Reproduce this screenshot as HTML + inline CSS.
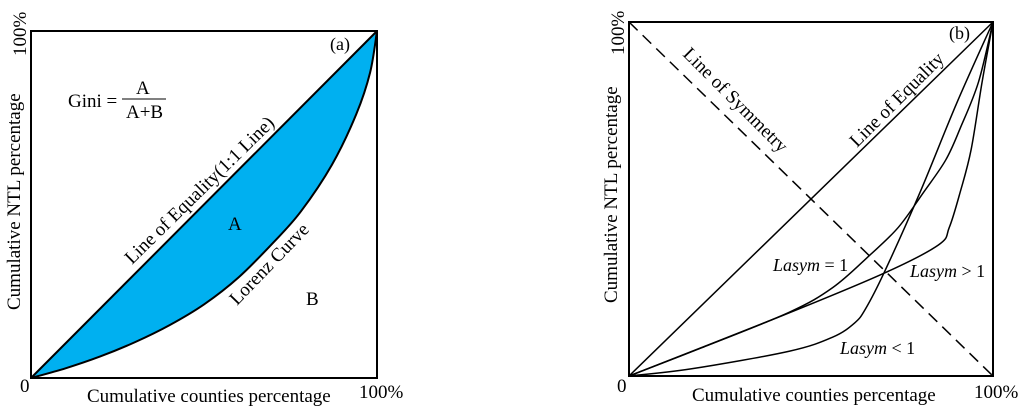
<!DOCTYPE html>
<html><head><meta charset="utf-8"><style>
body{margin:0;background:#fff}
svg{display:block;font-family:"Liberation Serif",serif}
</style></head><body>
<svg id="c" width="1024" height="414" viewBox="0 0 1024 414"></svg>
<script>
// Panel (a) Lorenz curve data (fractions)
const lorenzX=[0,0.1,0.2,0.3,0.4,0.5,0.6,0.7,0.78,0.87,0.94,0.98,1];
const lorenzY=[0,0.028,0.062,0.103,0.152,0.212,0.29,0.39,0.48,0.615,0.76,0.88,1];
// Panel (b) curves
const eqX=[0,0.2,0.44,0.56,0.66,0.74,0.81,0.87,0.91,0.96,1];
const eqY=[0,0.08,0.18,0.25,0.34,0.42,0.52,0.61,0.70,0.83,1];
const gtX=[0,0.42,0.70,0.85,0.88,0.91,0.94,0.97,1];
const gtY=[0,0.17,0.29,0.37,0.42,0.52,0.64,0.83,1];
const ltX=[0,0.17,0.44,0.56,0.62,0.65,0.70,0.80,0.90,1];
const ltY=[0,0.02,0.07,0.11,0.15,0.19,0.29,0.52,0.77,1];

const NS="http://www.w3.org/2000/svg";
const svg=document.getElementById('c');
function el(t,a,txt){const e=document.createElementNS(NS,t);for(const k in a)e.setAttribute(k,a[k]);if(txt!==undefined)e.textContent=txt;svg.appendChild(e);return e;}
function sx(p,v){return p.x0+v*(p.x1-p.x0);}
function sy(p,v){return p.y0-v*(p.y0-p.y1);}
function pathD(p,xs,ys){
  const pts=xs.map((x,i)=>[sx(p,x),sy(p,ys[i])]);
  let d=`M${pts[0][0]},${pts[0][1]}`;
  for(let i=0;i<pts.length-1;i++){
    const p0=pts[Math.max(i-1,0)],p1=pts[i],p2=pts[i+1],p3=pts[Math.min(i+2,pts.length-1)];
    const c1=[p1[0]+(p2[0]-p0[0])/6,p1[1]+(p2[1]-p0[1])/6];
    const c2=[p2[0]-(p3[0]-p1[0])/6,p2[1]-(p3[1]-p1[1])/6];
    d+=` C${c1[0]},${c1[1]} ${c2[0]},${c2[1]} ${p2[0]},${p2[1]}`;
  }
  return d;
}
const A={x0:31,x1:377,y0:378,y1:31};
const B={x0:629,x1:993,y0:376,y1:22};

let e;
e=el('path',{d:pathD(A,lorenzX,lorenzY)+` L${A.x0},${A.y0} Z`,fill:'#00b0f0',stroke:'none'});

e=el('path',{d:pathD(A,lorenzX,lorenzY),fill:'none',stroke:'#000','stroke-width':2});

e=el('line',{x1:A.x0,y1:A.y0,x2:A.x1,y2:A.y1,stroke:'#000','stroke-width':2});

e=el('rect',{x:A.x0,y:A.y1,width:A.x1-A.x0,height:A.y0-A.y1,fill:'none',stroke:'#000','stroke-width':2});


const T=(x,y,s,txt,name,extra)=>{const o={x:x,y:y,'font-size':s};Object.assign(o,extra||{});const t=el('text',o,txt);return t;};
T(330,50,18,'(a)','panel-label-a');
T(68,107,19,'Gini =','gini-label');
el('line',{x1:122,y1:99,x2:166,y2:99,stroke:'#000','stroke-width':1});
T(136,94,19,'A','gini-numerator');
T(126,118,19,'A+B','gini-denominator');
T(228,230,19,'A','region-a-label');
T(306,305,19,'B','region-b-label');
T(0,0,19,'Line of Equality(1:1 Line)','equality-label-a',{transform:'translate(132,265) rotate(-44.5)'});
T(0,0,19,'Lorenz Curve','lorenz-label',{transform:'translate(237,306) rotate(-46)'});
T(20,392,19,'0','x-origin-a');
T(359,398,19,'100%','x-max-a');
T(0,0,19,'100%','y-max-a',{transform:'translate(26,56) rotate(-90)'});
T(0,0,19,'Cumulative NTL percentage','y-axis-title-a',{transform:'translate(20,310) rotate(-90)'});
T(87,402,19,'Cumulative counties percentage','x-axis-title-a');

e=el('line',{x1:B.x0,y1:B.y1,x2:B.x1,y2:B.y0,stroke:'#000','stroke-width':1.5,'stroke-dasharray':'12,7'});

e=el('line',{x1:B.x0,y1:B.y0,x2:B.x1,y2:B.y1,stroke:'#000','stroke-width':1.5});

[[eqX,eqY,'curve-lasym-eq-1'],[gtX,gtY,'curve-lasym-gt-1'],[ltX,ltY,'curve-lasym-lt-1']].forEach(c=>{
  const p=el('path',{d:pathD(B,c[0],c[1]),fill:'none',stroke:'#000','stroke-width':1.5});
  
});
e=el('rect',{x:B.x0,y:B.y1,width:B.x1-B.x0,height:B.y0-B.y1,fill:'none',stroke:'#000','stroke-width':2});

T(949,39,18,'(b)','panel-label-b');
T(0,0,19,'Line of Equality','equality-label-b',{transform:'translate(857,148) rotate(-45)'});
T(0,0,19,'Line of Symmetry','symmetry-label',{transform:'translate(682,55) rotate(45)'});
T(773,271,18,'','lasym-eq-label').innerHTML='<tspan font-style="italic">Lasym</tspan> = 1';
T(910,277,18,'','lasym-gt-label').innerHTML='<tspan font-style="italic">Lasym</tspan> &gt; 1';
T(840,354,18,'','lasym-lt-label').innerHTML='<tspan font-style="italic">Lasym</tspan> &lt; 1';
T(617,392,19,'0','x-origin-b');
T(974,398,19,'100%','x-max-b');
T(0,0,19,'100%','y-max-b',{transform:'translate(624,55) rotate(-90)'});
T(0,0,19,'Cumulative NTL percentage','y-axis-title-b',{transform:'translate(617,303) rotate(-90)'});
T(692,401,19,'Cumulative counties percentage','x-axis-title-b');
</script>
</body></html>
